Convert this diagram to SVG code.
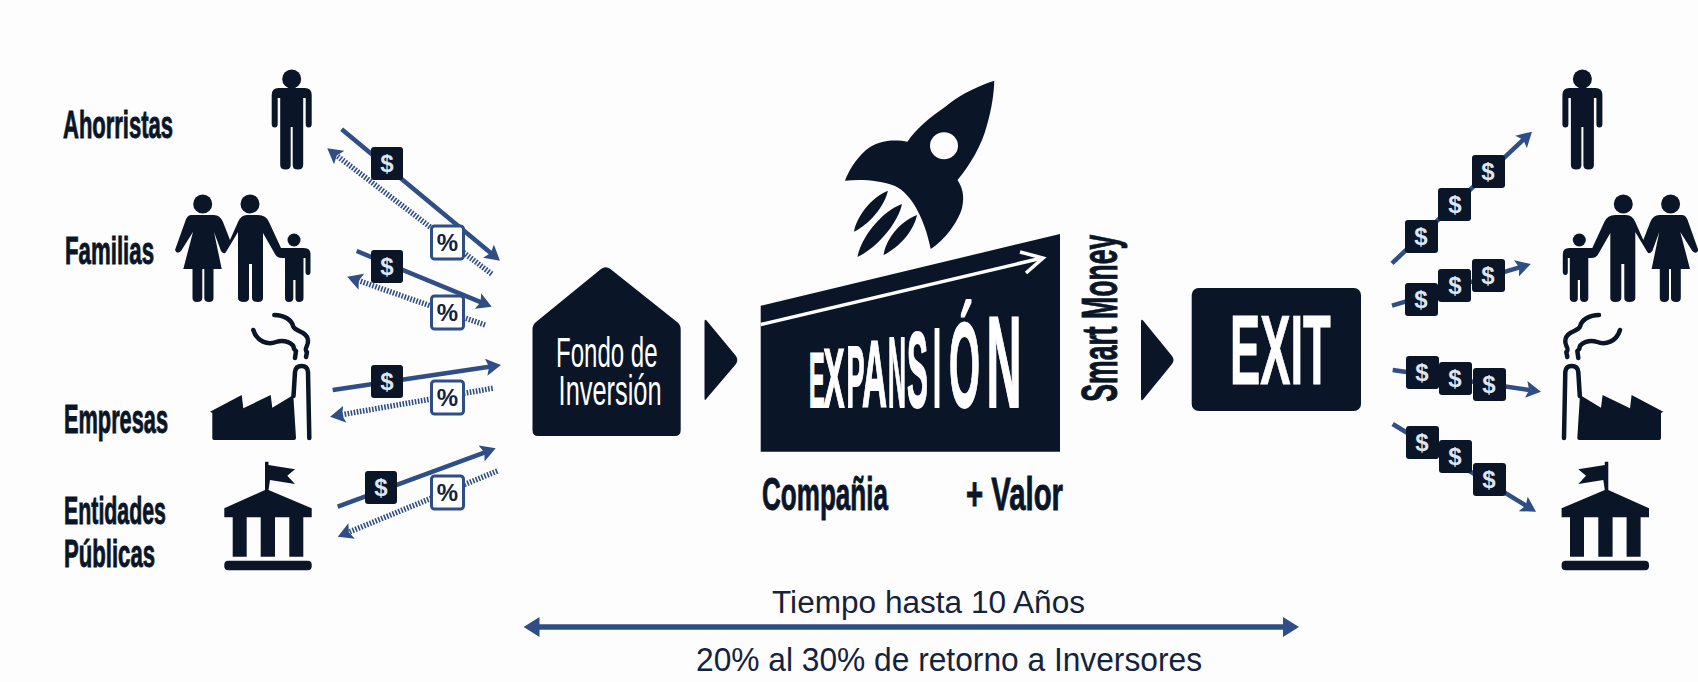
<svg xmlns="http://www.w3.org/2000/svg" xmlns:xlink="http://www.w3.org/1999/xlink" width="1698" height="682" viewBox="0 0 1698 682">
<style>
.d{fill:#0a1628}
.ln{fill:none;stroke:#2f4e85;stroke-width:4.5}
.dot{fill:none;stroke:#2f4e85;stroke-width:5.5;stroke-dasharray:1.6 1.5}
.sm{fill:none;stroke:#0a1628;stroke-width:4.5;stroke-linecap:round;stroke-linejoin:round}
.lab{font-family:"Liberation Sans",Arial,sans-serif;font-weight:700;fill:#0a1628;stroke:#0a1628;stroke-width:.9}
.wh{font-family:"Liberation Sans",Arial,sans-serif;fill:#fff}
.light{font-family:"Liberation Sans",Arial,sans-serif;fill:#14233c}
.bx{fill:#0a1628}
.pb{fill:#fff;stroke:#2f4e85;stroke-width:3}
.dl{font-family:"Liberation Sans",Arial,sans-serif;font-weight:700;font-size:24px;fill:#dfe6f2;text-anchor:middle}
.pc{font-family:"Liberation Sans",Arial,sans-serif;font-weight:700;font-size:24px;fill:#14233c;text-anchor:middle}
</style>
<defs>
<marker id="ah" viewBox="0 0 15 17" markerUnits="userSpaceOnUse" markerWidth="15" markerHeight="17" refX="5" refY="8.5" orient="auto"><path d="M0,0 L15,8.5 L0,17 L3,8.5 Z" fill="#2f4e85"/></marker>
<marker id="ah2" viewBox="0 0 16 20" markerUnits="userSpaceOnUse" markerWidth="16" markerHeight="20" refX="4" refY="10" orient="auto-start-reverse"><path d="M0,0 L16,10 L0,20 Z" fill="#2f4e85"/></marker>
<g id="person">
<circle cx="0" cy="79" r="9.5" class="d"/>
<path class="d" d="M-13,88 H13 Q20,88 20,95 V124 Q20,127.5 17,127.5 Q14,127.5 14,124 V98 H11.5 V165 Q11.5,169.5 6,169.5 Q1,169.5 1,165 V127 H-1 V165 Q-1,169.5 -6,169.5 Q-11.5,169.5 -11.5,165 V98 H-14 V124 Q-14,127.5 -17,127.5 Q-20,127.5 -20,124 V95 Q-20,88 -13,88 Z"/>
</g>
<g id="family">
<circle cx="202.7" cy="204" r="9.5" class="d"/>
<circle cx="250" cy="204" r="9.5" class="d"/>
<circle cx="294" cy="240" r="6.5" class="d"/>
<path class="d" d="M191,215 H214 Q220,215 223,222 L230,240 L238,222 Q241,215 247,215 H258 Q266,215 269,222 L281,248 H304 Q310.5,248 310.5,254 V272 Q310.5,275 308,275 Q305.5,275 305.5,272 V258 H303.5 V298 Q303.5,302 299,302 Q295.5,302 295.5,298 V280 H293.3 V298 Q293.3,302 289,302 Q285,302 285,298 V258 H282 Q277,258 275,254 L263,233 V298 Q263,302 258,302 Q252,302 252,298 V264 H249 V298 Q249,302 244,302 Q238,302 238,298 V232 L226,252 Q224,255 221,251 L214,232 L221.7,269 H213.5 V298 Q213.5,302 209,302 Q204.3,302 204.3,298 V269 H202.3 V298 Q202.3,302 197,302 Q192.5,302 192.5,298 V269 H183.3 L193,232 L181,251 Q177,255 175,250 L185,222 Q187,215 191,215 Z"/>
</g>
<g id="factory">
<path class="d" d="M210,411.7 L241.7,395 L243.3,408.3 L270.7,395 L272.3,407.7 L293.3,395 L296,438 Q296,440 294,440 H214 Q212.3,440 212.3,438 V413 Z"/>
<path class="sm" d="M293.5,396 L295,372 Q295.5,366 301.7,366 Q307.5,366 308,372 L309.3,438"/>
<path class="sm" d="M274.3,315 C284,315 292,320 293,326 C295,332 307,331 308,340 C309,346 303,349 307,352 L306,357"/>
<path class="sm" d="M253.3,330 C257,342 268,345 276,342 C284,339 294,343 294,349 L296,351 L295,358"/>
</g>
<g id="bank">
<path class="d" d="M265,461.7 H268.5 V465 L295,469.3 L287.3,475.7 L295,484 L270,480 L268.5,490 L311.7,508.3 V517.3 H303.3 V556.7 H289.3 V517.3 H275 V556.7 H260.7 V517.3 H246.7 V556.7 H232.7 V517.3 H224.3 V508.3 L265,490 Z"/>
<rect class="d" x="224.3" y="560.7" width="87.4" height="9.5" rx="4"/>
</g>
</defs>
<rect width="1698" height="682" fill="#fdfdfd"/>

<g id="connectors">
<path class="ln" d="M341.7,129.3 L492.3,254.3" marker-end="url(#ah)"/>
<path class="dot" d="M491.7,274 L335.2,154.4" marker-end="url(#ah)"/>
<path class="ln" d="M356.7,251 L482.5,302.9" marker-end="url(#ah)"/>
<path class="dot" d="M485,325 L356.7,280" marker-end="url(#ah)"/>
<path class="ln" d="M332.7,390 L491.1,366.5" marker-end="url(#ah)"/>
<path class="dot" d="M492.7,388.3 L339.9,415" marker-end="url(#ah)"/>
<path class="ln" d="M337.7,506.7 L486.3,451.8" marker-end="url(#ah)"/>
<path class="dot" d="M497.3,471 L347,532.9" marker-end="url(#ah)"/>
<path class="ln" d="M1392,263.3 L1524.7,138.5" marker-end="url(#ah)"/>
<path class="ln" d="M1392,305.7 L1521.2,266.9" marker-end="url(#ah)"/>
<path class="ln" d="M1392.7,370 L1531.1,390.2" marker-end="url(#ah)"/>
<path class="ln" d="M1392.7,424 L1527.5,506.5" marker-end="url(#ah)"/>
<path d="M535.5,627 H1287" fill="none" stroke="#2f4e85" stroke-width="5.5" marker-start="url(#ah2)" marker-end="url(#ah2)"/>
</g>

<g id="tokens-left">
<g><rect class="bx" x="371" y="147" width="32" height="33" rx="3"/><text class="dl" x="387" y="172">$</text></g>
<g><rect class="bx" x="371" y="250" width="32" height="33" rx="3"/><text class="dl" x="387" y="275">$</text></g>
<g><rect class="bx" x="371" y="365" width="32" height="33" rx="3"/><text class="dl" x="387" y="390">$</text></g>
<g><rect class="bx" x="365" y="471" width="32" height="33" rx="3"/><text class="dl" x="381" y="496">$</text></g>
<g><rect class="pb" x="431.5" y="226" width="32" height="33" rx="3"/><text class="pc" x="447.5" y="251">%</text></g>
<g><rect class="pb" x="431.5" y="296" width="32" height="33" rx="3"/><text class="pc" x="447.5" y="321">%</text></g>
<g><rect class="pb" x="431.5" y="381" width="32" height="33" rx="3"/><text class="pc" x="447.5" y="406">%</text></g>
<g><rect class="pb" x="431.5" y="476" width="32" height="33" rx="3"/><text class="pc" x="447.5" y="501">%</text></g>
</g>

<g id="tokens-right">
<g><rect class="bx" x="1405" y="220" width="33" height="33" rx="3"/><text class="dl" x="1421" y="245">$</text></g>
<g><rect class="bx" x="1438" y="188" width="33" height="33" rx="3"/><text class="dl" x="1455" y="213">$</text></g>
<g><rect class="bx" x="1472" y="155" width="33" height="33" rx="3"/><text class="dl" x="1488" y="180">$</text></g>
<g><rect class="bx" x="1405" y="283" width="33" height="33" rx="3"/><text class="dl" x="1421" y="308">$</text></g>
<g><rect class="bx" x="1438" y="269" width="33" height="33" rx="3"/><text class="dl" x="1455" y="294">$</text></g>
<g><rect class="bx" x="1472" y="259" width="33" height="33" rx="3"/><text class="dl" x="1488" y="284">$</text></g>
<g><rect class="bx" x="1406" y="356" width="33" height="33" rx="3"/><text class="dl" x="1422" y="381">$</text></g>
<g><rect class="bx" x="1439" y="362" width="33" height="33" rx="3"/><text class="dl" x="1455" y="387">$</text></g>
<g><rect class="bx" x="1473" y="368" width="33" height="33" rx="3"/><text class="dl" x="1489" y="393">$</text></g>
<g><rect class="bx" x="1406" y="426" width="33" height="33" rx="3"/><text class="dl" x="1422" y="451">$</text></g>
<g><rect class="bx" x="1439" y="440" width="33" height="33" rx="3"/><text class="dl" x="1455" y="465">$</text></g>
<g><rect class="bx" x="1473" y="463" width="33" height="33" rx="3"/><text class="dl" x="1489" y="488">$</text></g>
</g>

<g id="ahorristas-left"><use href="#person" transform="translate(291.7,0)"/><text class="lab" x="63" y="138" font-size="38" textLength="110" lengthAdjust="spacingAndGlyphs">Ahorristas</text></g>
<g id="familias-left"><use href="#family"/><text class="lab" x="65" y="264" font-size="38" textLength="89" lengthAdjust="spacingAndGlyphs">Familias</text></g>
<g id="empresas-left"><use href="#factory"/><text class="lab" x="64" y="433" font-size="40" textLength="104" lengthAdjust="spacingAndGlyphs">Empresas</text></g>
<g id="entidades-left"><use href="#bank"/>
<text class="lab" x="64" y="524" font-size="38" textLength="102" lengthAdjust="spacingAndGlyphs">Entidades</text>
<text class="lab" x="64" y="567" font-size="38" textLength="91" lengthAdjust="spacingAndGlyphs">Públicas</text></g>

<g id="ahorristas-right"><use href="#person" transform="translate(1582.4,0)"/></g>
<g id="familias-right"><use href="#family" transform="translate(1873.3,0) scale(-1,1)"/></g>
<g id="empresas-right"><use href="#factory" transform="translate(1873.3,0) scale(-1,1)"/></g>
<g id="entidades-right"><use href="#bank" transform="translate(1873.3,0) scale(-1,1)"/></g>

<g id="fondo">
<path class="d" d="M532.5,329 Q532.5,325 536,322 L601,269 Q605.7,265.5 610.4,269 L677,322 Q680.7,325 680.7,329 V430 Q680.7,436 675,436 H538 Q532.5,436 532.5,430 Z"/>
<text class="wh" x="556" y="367" font-size="42" textLength="101.5" lengthAdjust="spacingAndGlyphs">Fondo de</text>
<text class="wh" x="558.6" y="405" font-size="42" textLength="103" lengthAdjust="spacingAndGlyphs">Inversión</text>
</g>
<path id="tri-1" class="d" d="M704.5,322 Q704.5,318 707,321 L736,356 Q738.5,360 736,364 L707,398 Q704.5,402 704.5,398 Z"/>

<g id="rocket">
<path class="d" d="M994.3,80.7 C972,88 955,98 945,107 C930,117 915,130 907.5,141.7 C895,139 877,140 866,150 C855,160 848,172 845,180.7 C860,179 880,180 895,186 C912,194 925,220 930.7,249 C945,240 958,222 962,208 C965,195 962,187 957.5,180 C970,165 982,145 987,125 C992,108 994,92 994.3,80.7 Z"/>
<ellipse cx="944" cy="145.7" rx="14" ry="13.5" fill="#fdfdfd"/>
<path class="d" d="M887.9,190.7 C870,198 856,218 854,231.7 C870,224 885,205 887.9,190.7 Z"/>
<path class="d" d="M902,204 C880,212 860,240 857.5,257 C880,246 899,220 902,204 Z"/>
<path class="d" d="M917,215 C898,222 885,242 883.6,255 C900,247 914,230 917,215 Z"/>
</g>

<g id="expansion">
<path class="d" d="M760.7,305.7 L1060,234 V451.7 H760.7 Z"/>
<path d="M760.7,324.5 L1040,258.5" fill="none" stroke="#fff" stroke-width="3.5"/>
<path d="M1020,252 L1043,258 L1026,273" fill="none" stroke="#fff" stroke-width="3.5"/>
<text class="wh" y="407" font-weight="700" stroke="#fff" stroke-width="1.8"><tspan x="809" font-size="78" textLength="15.7" lengthAdjust="spacingAndGlyphs">E</tspan><tspan x="823.5" font-size="84" textLength="21" lengthAdjust="spacingAndGlyphs">X</tspan><tspan x="846.5" font-size="88" textLength="18" lengthAdjust="spacingAndGlyphs">P</tspan><tspan x="862" font-size="94" textLength="25" lengthAdjust="spacingAndGlyphs">A</tspan><tspan x="888" font-size="100" textLength="18" lengthAdjust="spacingAndGlyphs">N</tspan><tspan x="907" font-size="108" textLength="21" lengthAdjust="spacingAndGlyphs">S</tspan><tspan x="933" font-size="113" textLength="8" lengthAdjust="spacingAndGlyphs">I</tspan><tspan x="949" font-size="120" textLength="31" lengthAdjust="spacingAndGlyphs">Ó</tspan><tspan x="986.5" font-size="130" textLength="35" lengthAdjust="spacingAndGlyphs">N</tspan></text>
<text class="lab" x="762" y="510" font-size="46" textLength="126" lengthAdjust="spacingAndGlyphs">Compañia</text>
<text class="lab" x="966" y="510" font-size="46" textLength="97" lengthAdjust="spacingAndGlyphs">+ Valor</text>
</g>

<text class="lab" transform="translate(1116.7,401.7) rotate(-90)" font-size="50" textLength="167" lengthAdjust="spacingAndGlyphs">Smart Money</text>
<path id="tri-2" class="d" d="M1141,322 Q1141,318 1143.5,321 L1172,356 Q1175,360 1172,364 L1143.5,399 Q1141,402 1141,398 Z"/>
<g id="exit">
<rect class="d" x="1191.7" y="288" width="169.3" height="123" rx="7"/>
<text class="wh" x="1230" y="384" font-size="98" font-weight="700" stroke="#fff" stroke-width="1" textLength="100.7" lengthAdjust="spacingAndGlyphs">EXIT</text>
</g>

<text class="light" x="772" y="613" font-size="31" textLength="313" lengthAdjust="spacingAndGlyphs">Tiempo hasta 10 Años</text>
<text class="light" x="696" y="671" font-size="34" textLength="506" lengthAdjust="spacingAndGlyphs">20% al 30% de retorno a Inversores</text>
</svg>
